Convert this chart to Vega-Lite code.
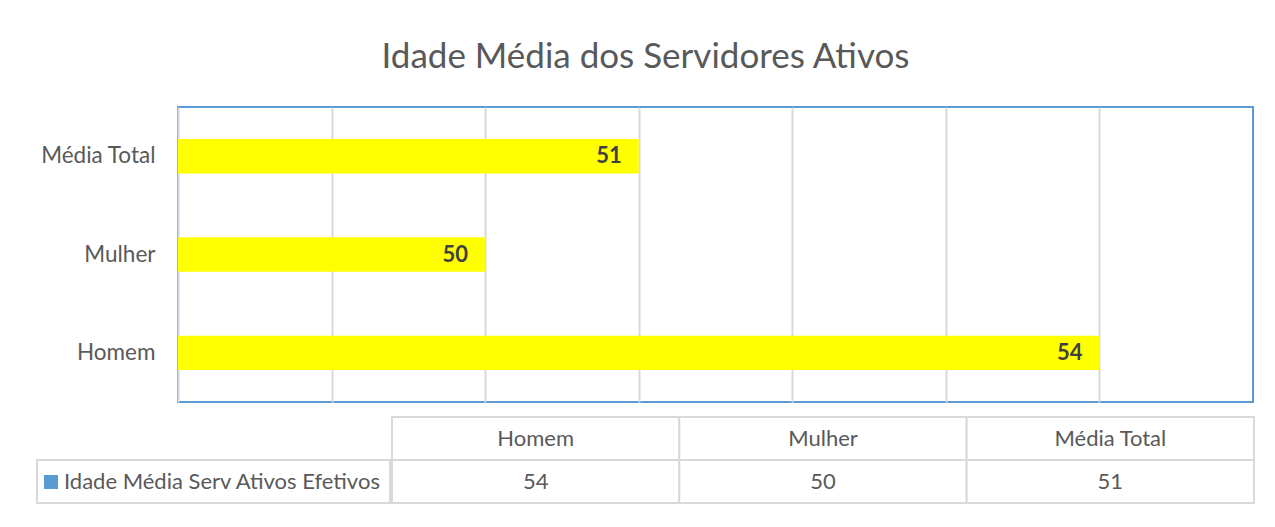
{
  "$schema": "https://vega.github.io/schema/vega-lite/v6.json",
  "padding": {"left": 36, "top": 40, "right": 10, "bottom": 10},
  "background": "white",
  "title": {"text": "Idade Média dos Servidores Ativos", "font": "Lato", "fontSize": 35, "fontWeight": "normal", "color": "#595959", "anchor": "middle", "offset": 31},
  "data": {"values": [
    {"categoria": "Homem", "idade": 54, "serie": "Idade Média Serv Ativos Efetivos"},
    {"categoria": "Mulher", "idade": 50, "serie": "Idade Média Serv Ativos Efetivos"},
    {"categoria": "Média Total", "idade": 51, "serie": "Idade Média Serv Ativos Efetivos"}
  ]},
  "spacing": 13,
  "resolve": {"scale": {"color": "independent"}, "legend": {"color": "independent"}},
  "vconcat": [
    {
      "spacing": 0,
      "hconcat": [
        {"width": 1, "height": 295, "view": {"stroke": null}, "mark": {"type": "text", "text": ""}, "encoding": {}},
        {
          "width": 1075,
          "height": 295,
          "layer": [
            {
              "mark": {"type": "bar", "color": "#FFFF00"},
              "encoding": {
                "y": {"field": "categoria", "type": "nominal", "sort": ["Média Total", "Mulher", "Homem"],
                  "scale": {"paddingInner": 0.65, "paddingOuter": 0.325},
                  "axis": {"title": null, "ticks": false, "labelPadding": 23, "labelFont": "Lato", "labelFontSize": 22.5, "labelColor": "#595959", "domainColor": "#cfd8e3", "domainWidth": 2, "minExtent": 138}},
                "x": {"field": "idade", "type": "quantitative",
                  "scale": {"domain": [48, 55], "nice": false, "zero": false},
                  "axis": {"title": null, "labels": false, "ticks": false, "domain": false, "grid": true, "values": [49, 50, 51, 52, 53, 54], "gridColor": "#d9d9d9", "gridWidth": 2}},
                "x2": {"datum": 48}
              }
            },
            {
              "mark": {"type": "text", "align": "right", "baseline": "middle", "dx": -17, "font": "Lato", "fontSize": 22, "fontWeight": "bold", "color": "#404040"},
              "encoding": {
                "y": {"field": "categoria", "type": "nominal", "sort": ["Média Total", "Mulher", "Homem"]},
                "x": {"field": "idade", "type": "quantitative"},
                "text": {"field": "idade", "type": "quantitative"}
              }
            }
          ]
        }
      ]
    },
    {
      "spacing": 0,
      "resolve": {"scale": {"color": "independent"}, "legend": {"color": "independent"}},
      "hconcat": [
        {
          "width": 353,
          "height": 86,
          "view": {"stroke": null},
          "layer": [
            {
              "mark": {"type": "rect", "fill": "white", "stroke": "#d9d9d9", "strokeWidth": 2},
              "encoding": {
                "y": {"datum": "values", "type": "nominal", "scale": {"domain": ["header", "values"], "paddingInner": 0, "paddingOuter": 0}, "axis": null}
              }
            },
            {
              "mark": {"type": "point", "shape": "square", "filled": true, "opacity": 0},
              "encoding": {
                "y": {"datum": "values", "type": "nominal"},
                "color": {"field": "serie", "type": "nominal", "scale": {"range": ["#5B9BD5"]},
                  "legend": {"title": null, "orient": "bottom-left", "offset": 4, "padding": 6, "symbolOffset": -7, "symbolType": "square", "symbolSize": 196, "symbolStrokeWidth": 0, "labelFont": "Lato", "labelFontSize": 22, "labelColor": "#595959", "labelLimit": 340, "labelOffset": 2}}
              }
            }
          ]
        },
        {
          "width": 862,
          "height": 86,
          "view": {"stroke": null},
          "encoding": {
            "x": {"field": "categoria", "type": "nominal", "sort": null, "scale": {"paddingInner": 0, "paddingOuter": 0}, "axis": null}
          },
          "layer": [
            {
              "mark": {"type": "rect", "fill": "white", "stroke": "#d9d9d9", "strokeWidth": 2},
              "encoding": {
                "y": {"datum": "header", "type": "nominal", "scale": {"domain": ["header", "values"], "paddingInner": 0, "paddingOuter": 0}, "axis": null}
              }
            },
            {
              "mark": {"type": "rect", "fill": "white", "stroke": "#d9d9d9", "strokeWidth": 2},
              "encoding": {"y": {"datum": "values", "type": "nominal"}}
            },
            {
              "mark": {"type": "text", "font": "Lato", "fontSize": 22, "color": "#595959"},
              "encoding": {"y": {"datum": "header", "type": "nominal"}, "text": {"field": "categoria", "type": "nominal"}}
            },
            {
              "mark": {"type": "text", "font": "Lato", "fontSize": 22, "color": "#595959"},
              "encoding": {"y": {"datum": "values", "type": "nominal"}, "text": {"field": "idade", "type": "quantitative"}}
            }
          ]
        }
      ]
    }
  ],
  "config": {"view": {"stroke": "#5B9BD5", "strokeWidth": 2}, "font": "Lato"}
}
